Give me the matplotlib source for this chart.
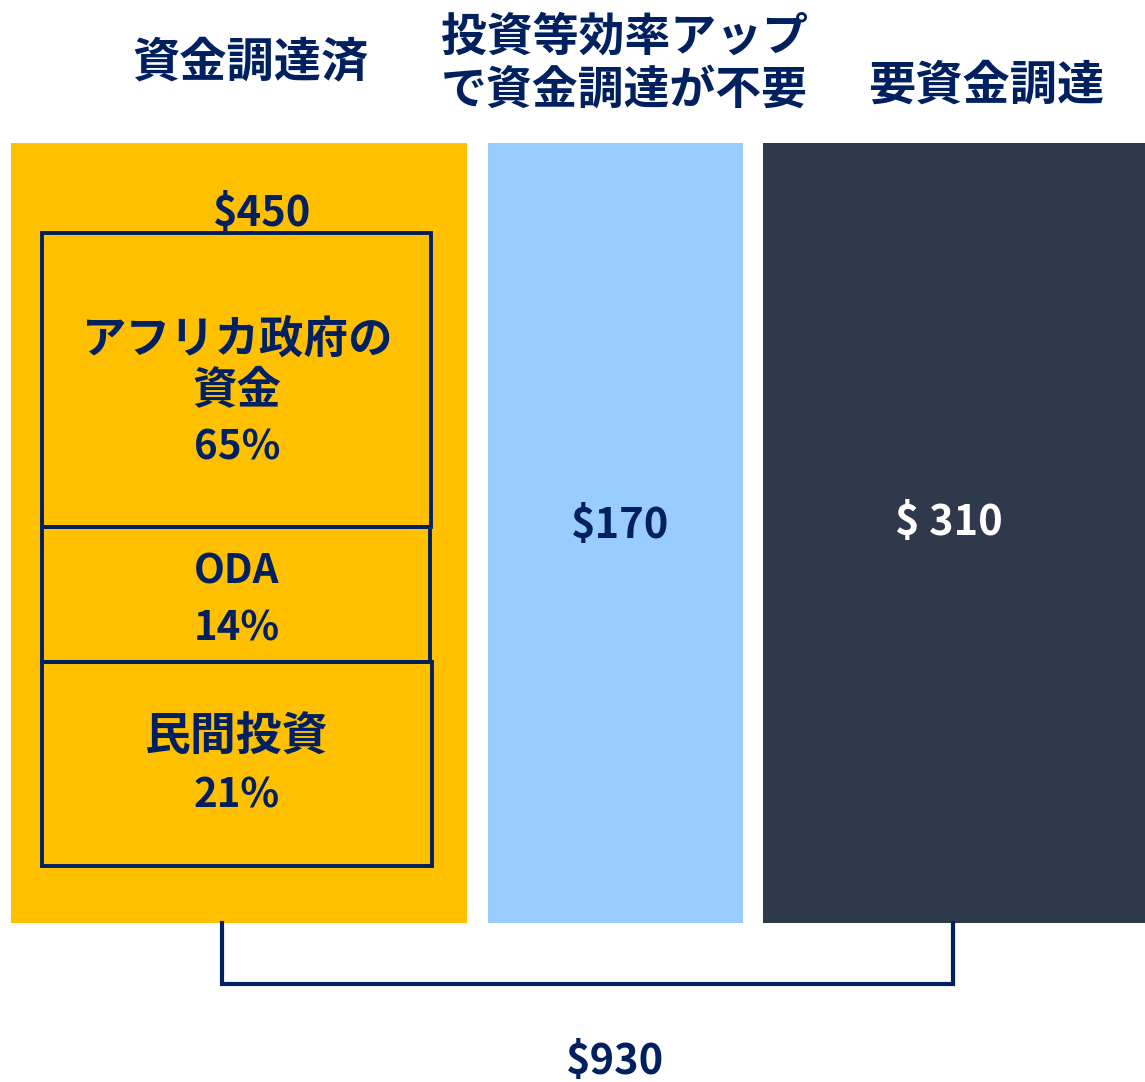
import matplotlib
matplotlib.use("Agg")
import matplotlib.pyplot as plt
from matplotlib.patches import Rectangle

plt.rcParams['font.family'] = ['Noto Sans CJK JP', 'DejaVu Sans']

# data
categories = ['資金調達済', '投資等効率アップ\nで資金調達が不要', '要資金調達']
values = [450, 170, 310]
value_labels = ['$450', '$170', '$ 310']
total_label = '$930'
parts = ['アフリカ政府の\n資金', 'ODA', '民間投資']
part_shares = [65, 14, 21]

# layout (pixel coords)
bar_left = [11, 488, 763]
bar_width = [456, 255, 382]
bar_top, bar_bottom = 143, 923
colors = ['#FFC000', '#99CCFF', '#2E3A4C']
navy = '#002060'

fig = plt.figure(figsize=(11.45, 10.82), dpi=100)
ax = fig.add_axes([0, 0, 1, 1])
ax.set_xlim(0, 1145)
ax.set_ylim(1082, 0)
ax.axis('off')

ax.bar(bar_left, bar_bottom - bar_top, width=bar_width, bottom=bar_top,
       align='edge', color=colors)

# category titles
title_x = [250, 624, 986]
title_y = [62, 64, 86]
title_size = [34, 33, 34]
for x, y, c, fs in zip(title_x, title_y, categories, title_size):
    ax.text(x, y, c, ha='center', va='center', fontsize=fs, fontweight='bold',
            color=navy, linespacing=1.2)

# value labels
val_pos = [(262, 214), (620, 526), (949, 523)]
val_col = [navy, navy, 'white']
for (x, y), t, c in zip(val_pos, value_labels, val_col):
    ax.text(x, y, t, ha='center', va='center', fontsize=30, fontweight='bold', color=c)

# breakdown boxes inside first bar
box_x = [42, 42, 42]
box_w = [389, 388, 390]
box_top = [233, 527, 662]
box_h = [294, 135, 204]
for x, w, t, h in zip(box_x, box_w, box_top, box_h):
    ax.add_patch(Rectangle((x, t), w, h, fill=False, edgecolor=navy, linewidth=2.8))

name_y = [365, 572, 738]
name_size = [32, 29, 33]
pct_y = [448, 629, 796]
for n, s, ny, py, fs in zip(parts, part_shares, name_y, pct_y, name_size):
    ax.text(237, ny, n, ha='center', va='center', fontsize=fs, fontweight='bold',
            color=navy, linespacing=1.1)
    ax.text(237, py, f'{s}%', ha='center', va='center', fontsize=29,
            fontweight='bold', color=navy)

# bracket for total
ax.plot([222, 222, 953, 953], [923, 984, 984, 923], color=navy, linewidth=3,
        solid_joinstyle='miter')
ax.text(615, 1062, total_label, ha='center', va='center', fontsize=30,
        fontweight='bold', color=navy)

fig.savefig('out.png', dpi=100)
